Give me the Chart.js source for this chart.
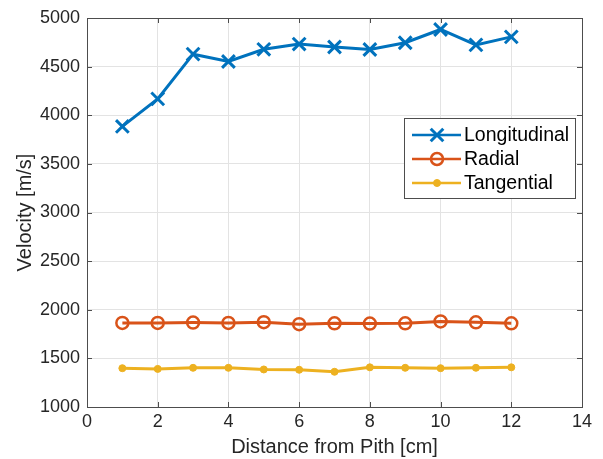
<!DOCTYPE html>
<html>
<head>
<meta charset="utf-8">
<script src="https://cdn.jsdelivr.net/npm/chart.js"></script>
<style>
  html, body { margin: 0; padding: 0; background: #fff; }
  #wrap { width: 603px; height: 459px; position: relative; }
</style>
</head>
<body>
<div id="wrap"><canvas id="c"></canvas></div>
<script>
// distance from pith [cm]
const distance = [1, 2, 3, 4, 5, 6, 7, 8, 9, 10, 11, 12];
// velocities [m/s]
const longitudinal = [3885, 4168, 4628, 4553, 4678, 4732, 4702, 4676, 4746, 4882, 4724, 4806];
const radial = [1865, 1865, 1868, 1865, 1872, 1852, 1861, 1858, 1861, 1880, 1871, 1861];
const tangential = [1399, 1392, 1403, 1403, 1386, 1383, 1362, 1408, 1403, 1399, 1403, 1408];

const xTicks = [0, 2, 4, 6, 8, 10, 12, 14];
const yTicks = [1000, 1500, 2000, 2500, 3000, 3500, 4000, 4500, 5000];

const FONT = "'Liberation Sans', Arial, Helvetica, sans-serif";
const TXT = "#262626";

function pts(ys) {
  return ys.map((y, i) => ({ x: distance[i], y }));
}

// axes box, inward ticks on all sides (MATLAB look)
const boxPlugin = {
  id: "box",
  afterDraw(chart) {
    const { ctx, chartArea: a, scales } = chart;
    ctx.save();
    ctx.strokeStyle = "#4d4d4d";
    ctx.lineWidth = 1;
    ctx.strokeRect(a.left + 0.5, a.top + 0.5, a.right - a.left, a.bottom - a.top);
    ctx.beginPath();
    const t = 5;
    xTicks.forEach(v => {
      const px = Math.round(scales.x.getPixelForValue(v)) + 0.5;
      ctx.moveTo(px, a.bottom); ctx.lineTo(px, a.bottom - t);
      ctx.moveTo(px, a.top); ctx.lineTo(px, a.top + t);
    });
    yTicks.forEach(v => {
      const py = Math.round(scales.y.getPixelForValue(v)) + 0.5;
      ctx.moveTo(a.left, py); ctx.lineTo(a.left + t, py);
      ctx.moveTo(a.right, py); ctx.lineTo(a.right - t, py);
    });
    ctx.stroke();
    ctx.restore();
  }
};

// legend drawn inside the axes, like MATLAB's 'best' location
const legendPlugin = {
  id: "inLegend",
  afterDraw(chart) {
    const { ctx } = chart;
    const bx = 404, by = 118, bw = 171, bh = 80;
    ctx.save();
    ctx.fillStyle = "#fff";
    ctx.fillRect(bx, by, bw, bh);
    ctx.strokeStyle = "#4d4d4d";
    ctx.lineWidth = 1;
    ctx.strokeRect(bx + 0.5, by + 0.5, bw, bh);
    chart.data.datasets.forEach((ds, i) => {
      const cy = by + 17 + i * 24;
      const mx = bx + 33;
      ctx.strokeStyle = ds.borderColor;
      ctx.lineWidth = 2.5;
      ctx.beginPath();
      ctx.moveTo(bx + 8, cy); ctx.lineTo(bx + 57, cy);
      ctx.stroke();
      ctx.fillStyle = ds.pointBackgroundColor;
      ctx.lineWidth = ds.pointBorderWidth;
      ctx.beginPath();
      if (ds.pointStyle === "circle") {
        ctx.arc(mx, cy, ds.pointRadius, 0, Math.PI * 2);
        ctx.fill(); ctx.stroke();
      } else {
        const r = ds.pointRadius * 0.7;
        ctx.moveTo(mx - r, cy - r); ctx.lineTo(mx + r, cy + r);
        ctx.moveTo(mx - r, cy + r); ctx.lineTo(mx + r, cy - r);
        ctx.stroke();
      }
      ctx.fillStyle = "#000";
      ctx.font = "19.5px " + FONT;
      ctx.textBaseline = "middle";
      ctx.fillText(ds.label, bx + 60, cy + 1);
    });
    ctx.restore();
  }
};

new Chart(document.getElementById("c"), {
  type: "line",
  data: {
    datasets: [
      {
        label: "Longitudinal", data: pts(longitudinal),
        borderColor: "#0072BD", borderWidth: 3,
        pointStyle: "crossRot", pointRadius: 9, pointBorderWidth: 3,
        pointBackgroundColor: "#0072BD", pointBorderColor: "#0072BD"
      },
      {
        label: "Radial", data: pts(radial),
        borderColor: "#D95319", borderWidth: 3,
        pointStyle: "circle", pointRadius: 6, pointBorderWidth: 2.5,
        pointBackgroundColor: "rgba(255,255,255,0)", pointBorderColor: "#D95319"
      },
      {
        label: "Tangential", data: pts(tangential),
        borderColor: "#EDB120", borderWidth: 3,
        pointStyle: "circle", pointRadius: 3.5, pointBorderWidth: 1,
        pointBackgroundColor: "#EDB120", pointBorderColor: "#EDB120"
      }
    ]
  },
  options: {
    responsive: true,
    maintainAspectRatio: false,
    animation: false,
    layout: { padding: { top: 18, right: 21, left: 0, bottom: 0 } },
    plugins: { legend: { display: false }, tooltip: { enabled: false } },
    elements: { line: { tension: 0 } },
    scales: {
      x: {
        type: "linear", min: 0, max: 14,
        afterBuildTicks: s => { s.ticks = xTicks.map(v => ({ value: v })); },
        afterFit: s => { s.height = 52; },
        grid: { color: "#e3e3e3", drawTicks: false },
        border: { display: false },
        ticks: { color: TXT, font: { family: FONT, size: 18 }, padding: 4, maxRotation: 0, callback: v => String(v) },
        title: { display: true, text: "Distance from Pith [cm]", color: TXT, font: { family: FONT, size: 20 }, padding: { top: 0, bottom: 0 } }
      },
      y: {
        type: "linear", min: 1000, max: 5000,
        afterBuildTicks: s => { s.ticks = yTicks.map(v => ({ value: v })); },
        afterFit: s => { s.width = 87; },
        grid: { color: "#e3e3e3", drawTicks: false },
        border: { display: false },
        ticks: { color: TXT, font: { family: FONT, size: 18 }, padding: 7, callback: v => String(v) },
        title: { display: true, text: "Velocity [m/s]", color: TXT, font: { family: FONT, size: 20 }, padding: { top: 13, bottom: 0 } }
      }
    }
  },
  plugins: [boxPlugin, legendPlugin]
});
</script>
</body>
</html>
